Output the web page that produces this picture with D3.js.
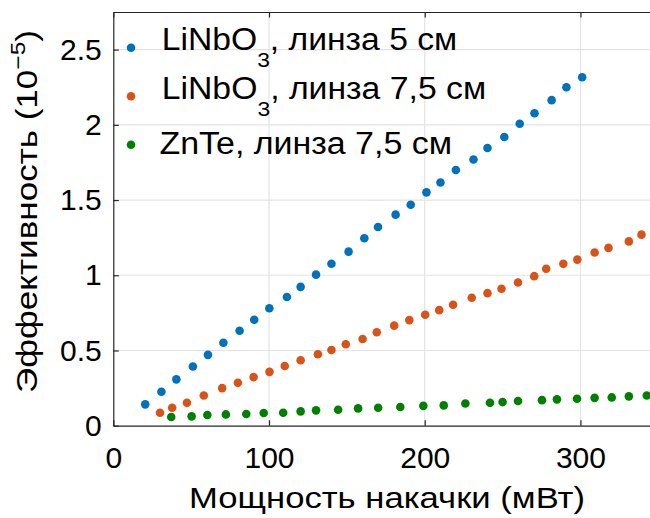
<!DOCTYPE html>
<html>
<head>
<meta charset="utf-8">
<script src="https://cdn.jsdelivr.net/npm/d3@7"></script>
<style>
	body { margin: 0; background: #fff; }
	svg { display: block; font-family: "Liberation Sans", Arial, sans-serif; }
</style>
</head>
<body>
<script>
// power (mW) and efficiency (x1e-5)
var blueX = [20.5, 30.9, 40.5, 51.1, 60.8, 70.7, 81.1, 90.5, 100.2, 111.5, 120.3, 130.2, 140.1, 151.1, 161.2, 170.0, 181.3, 191.0, 201.1, 210.1, 220.0, 231.3, 240.3, 251.1, 261.0, 270.5, 281.5, 291.0, 301.1];
var blueY = [0.142, 0.226, 0.308, 0.394, 0.471, 0.551, 0.631, 0.704, 0.781, 0.856, 0.923, 1.004, 1.077, 1.157, 1.246, 1.321, 1.403, 1.469, 1.551, 1.617, 1.700, 1.770, 1.846, 1.919, 2.007, 2.077, 2.164, 2.250, 2.316];

var orangeX = [30.0, 37.8, 47.3, 58.1, 69.9, 80.0, 90.1, 100.3, 110.1, 120.3, 131.4, 140.1, 149.3, 160.1, 169.2, 180.4, 190.1, 200.3, 209.3, 218.2, 230.2, 240.3, 249.3, 259.9, 270.3, 278.0, 289.0, 298.0, 309.1, 318.0, 331.1, 339.2];
var orangeY = [0.086, 0.119, 0.152, 0.201, 0.250, 0.285, 0.323, 0.358, 0.397, 0.435, 0.475, 0.503, 0.541, 0.576, 0.621, 0.665, 0.702, 0.738, 0.768, 0.804, 0.851, 0.881, 0.910, 0.952, 0.994, 1.043, 1.076, 1.104, 1.151, 1.182, 1.225, 1.270];

var greenX = [37.2, 50.3, 60.4, 72.3, 85.4, 96.6, 109.1, 120.3, 130.2, 144.4, 157.2, 170.1, 184.3, 199.1, 212.2, 226.1, 241.9, 250.0, 259.9, 275.3, 284.9, 297.8, 309.1, 320.1, 331.1, 342.6];
var greenY = [0.058, 0.062, 0.071, 0.075, 0.078, 0.084, 0.086, 0.095, 0.102, 0.106, 0.115, 0.119, 0.124, 0.132, 0.135, 0.148, 0.152, 0.157, 0.164, 0.170, 0.175, 0.179, 0.185, 0.188, 0.195, 0.201];

var xTicks = [0, 100, 200, 300];
var yTicks = [0, 0.5, 1, 1.5, 2, 2.5];
var yTickLabels = ["0", "0.5", "1", "1.5", "2", "2.5"];

var seriesNames = ["LiNbO", "LiNbO", "ZnTe"];
var seriesSubs = ["3", "3", ""];
var seriesRest = [", линза 5 см", ", линза 7,5 см", ", линза 7,5 см"];
var seriesColors = ["#0072bd", "#d95319", "#008000"];

function init(){
	var w = 650;
	var h = 518;
	var left = 113.3;
	var top = 12;
	var bottom = 425.7;
	var plotW = 545;

	var xScale = d3.scaleLinear()
		.domain([0, 350])
		.range([left, left + plotW]);

	var yScale = d3.scaleLinear()
		.domain([0, 2.75])
		.range([bottom, top]);

	var svg = d3.select("body")
		.append("svg")
		.attr("width", w)
		.attr("height", h);

	// grid
	var grid = svg.append("g").attr("stroke", "#e3e3e3").attr("stroke-width", 1.2);
	grid.selectAll(".gx")
		.data(xTicks.slice(1))
		.enter()
		.append("line")
		.attr("x1", function(d){ return xScale(d); })
		.attr("x2", function(d){ return xScale(d); })
		.attr("y1", top)
		.attr("y2", bottom);
	grid.selectAll(".gy")
		.data(yTicks.slice(1))
		.enter()
		.append("line")
		.attr("x1", left)
		.attr("x2", left + plotW)
		.attr("y1", function(d){ return yScale(d); })
		.attr("y2", function(d){ return yScale(d); });

	// points
	var series = [
		d3.zip(blueX, blueY),
		d3.zip(orangeX, orangeY),
		d3.zip(greenX, greenY)
	];
	series.forEach(function(pts, i){
		svg.append("g")
			.attr("fill", seriesColors[i])
			.selectAll("circle")
			.data(pts)
			.enter()
			.append("circle")
			.attr("cx", function(d){ return xScale(d[0]); })
			.attr("cy", function(d){ return yScale(d[1]); })
			.attr("r", 4.3);
	});

	// axes, ticks pointing inward
	var xAxis = d3.axisBottom(xScale)
		.tickValues(xTicks)
		.tickSize(-5.5)
		.tickSizeOuter(0)
		.tickPadding(21);
	var gx = svg.append("g")
		.attr("transform", "translate(0," + bottom + ")")
		.call(xAxis);

	var xTop = d3.axisTop(xScale)
		.tickValues(xTicks)
		.tickSize(-5.5)
		.tickSizeOuter(0)
		.tickFormat("");
	var gxt = svg.append("g")
		.attr("transform", "translate(0," + top + ")")
		.call(xTop);

	var yAxis = d3.axisLeft(yScale)
		.tickValues(yTicks)
		.tickSize(-5.5)
		.tickSizeOuter(0)
		.tickPadding(11.5)
		.tickFormat(function(d, i){ return yTickLabels[i]; });
	var gy = svg.append("g")
		.attr("transform", "translate(" + left + ",0)")
		.call(yAxis);

	[gx, gxt, gy].forEach(function(g){
		g.select(".domain").attr("stroke", "#262626").attr("stroke-width", 1.2);
		g.selectAll(".tick line").attr("stroke", "#262626").attr("stroke-width", 1.2);
		g.selectAll("text")
			.attr("fill", "#000")
			.style("font-size", "30px")
			.style("font-family", "'Liberation Sans', Arial, sans-serif");
	});
	gx.selectAll(".tick text").attr("dy", "0.71em");

	// legend (text stretched to the widths measured on the picture)
	var legX = [161.7, 161.7, 159.5];
	var legLen = [295.5, 324.5, 292.5];
	var leg = svg.append("g");
	seriesColors.forEach(function(c, i){
		var yy = 47.7 + i * 48.5;
		leg.append("circle")
			.attr("cx", 131)
			.attr("cy", yy)
			.attr("r", 4.3)
			.attr("fill", c);
		var base = seriesSubs[i] ? yy + 2.6 : yy + 9.5;
		var t = leg.append("text")
			.attr("x", legX[i])
			.attr("y", base)
			.attr("textLength", legLen[i])
			.attr("lengthAdjust", "spacingAndGlyphs")
			.style("font-size", "31px")
			.attr("fill", "#000");
		t.append("tspan").text(seriesNames[i]);
		if (seriesSubs[i]) {
			t.append("tspan")
				.attr("dy", 17)
				.style("font-size", "21px")
				.text(seriesSubs[i]);
			t.append("tspan").attr("dy", -17).text(seriesRest[i]);
		} else {
			t.append("tspan").text(seriesRest[i]);
		}
	});

	// axis titles
	svg.append("text")
		.attr("x", 189)
		.attr("y", 508)
		.attr("textLength", 396)
		.attr("lengthAdjust", "spacingAndGlyphs")
		.style("font-size", "30px")
		.text("Мощность накачки (мВт)");

	var yl = svg.append("text")
		.attr("transform", "translate(37,393) rotate(-90)")
		.attr("textLength", 363)
		.attr("lengthAdjust", "spacingAndGlyphs")
		.style("font-size", "30px");
	yl.append("tspan").text("Эффективность (10");
	yl.append("tspan").attr("dy", -12).style("font-size", "21px").text("−5");
	yl.append("tspan").attr("dy", 12).text(")");
}

window.onload = init;
</script>
</body>
</html>
